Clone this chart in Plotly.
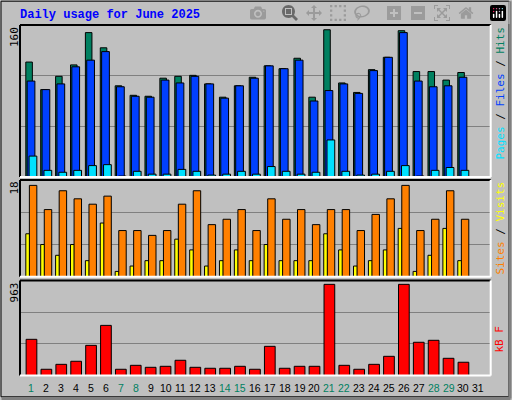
import plotly.graph_objects as go

days = list(range(1, 32))
hits  = [121,92,106,118,152,136,96,86,85,104,106,107,98,84,96,105,117,114,125,84,155,99,89,113,126,154,111,111,102,110,0]
files = [101,92,98,116,123,132,95,85,84,102,99,106,98,83,96,104,117,114,123,80,91,98,88,112,126,152,101,95,96,105,0]
pages = [22,7,5,7,12,13,1,6,3,3,8,6,2,3,6,3,11,6,3,5,39,6,2,3,6,12,1,7,10,7,0]
sites = [8,6,4,6,3,10,1,2,3,3,7,5,2,3,5,3,6,3,3,3,8,5,2,3,5,9,1,4,9,3,0]
visits= [17,12.5,16,14.5,13.5,15,8.6,8.6,7.7,8.6,13.5,16,9.7,10.7,12.5,8.6,14.5,10.7,12.5,9.7,12.5,12.5,8.6,11.6,14.5,17,8.6,10.7,16,10.7,0]
kbytes= [367,64,114,145,306,508,64,104,84,94,155,84,74,74,94,64,296,74,94,94,923,104,64,114,195,923,337,357,175,135,0]
weekend = {1,7,8,14,15,21,22,28,29}
title = "Daily usage for June 2025"

line = dict(color="black", width=1)
fig = go.Figure()
def bar(y, ax, color, off, w):
    fig.add_trace(go.Bar(x=days, y=y, xaxis="x"+ax, yaxis="y"+ax, marker=dict(color=color, line=line),
                         offset=off, width=w, showlegend=False, hoverinfo="skip"))
bar(hits, "", "#008060", -0.51, 0.44)
bar(files, "", "#0040FF", -0.42, 0.52)
bar(pages, "", "#00E0FF", -0.29, 0.52)
bar(sites, "2", "#FFFF00", -0.51, 0.26)
bar(visits, "2", "#FF8000", -0.27, 0.5)
bar(kbytes, "3", "#FF0000", -0.49, 0.72)

xd = [20/512, 490.7/512]
xr = [0.1, 31.7]
doms = {"": [0.5575, 0.9375], "2": [0.308, 0.55], "3": [0.061, 0.299]}
maxs = {"": 160, "2": 18, "3": 963}
lay = dict(width=512, height=400, margin=dict(l=0, r=0, t=0, b=0),
           paper_bgcolor="#C0C0C0", plot_bgcolor="#C0C0C0", barmode="overlay")
for k in ["", "2", "3"]:
    m = maxs[k]
    lay["xaxis"+k] = dict(domain=xd, range=xr, anchor="y"+k, showticklabels=False, showgrid=False,
                          zeroline=False, ticks="")
    lay["yaxis"+k] = dict(domain=doms[k], range=[0, m], anchor="x"+k, tickvals=[m/3, 2*m/3],
                          showticklabels=False, gridcolor="#808080", gridwidth=1, zeroline=False, ticks="")
fig.update_layout(**lay)

mono = "DejaVu Sans Mono"
shapes = []
for k in ["", "2", "3"]:
    y0, y1 = doms[k]
    shapes.append(dict(type="line", xref="paper", yref="paper", x0=xd[0], x1=xd[1], y0=y1, y1=y1, line=dict(color="black", width=2)))
    shapes.append(dict(type="line", xref="paper", yref="paper", x0=xd[0], x1=xd[0], y0=y0, y1=y1, line=dict(color="black", width=2)))
    shapes.append(dict(type="line", xref="paper", yref="paper", x0=xd[0], x1=xd[1], y0=y0, y1=y0, line=dict(color="white", width=2)))
    shapes.append(dict(type="line", xref="paper", yref="paper", x0=xd[1], x1=xd[1], y0=y0, y1=y1, line=dict(color="white", width=2)))
shapes.append(dict(type="rect", xref="paper", yref="paper", x0=0.002, x1=0.994, y0=0.008, y1=0.997,
                   line=dict(color="black", width=1)))
shapes.append(dict(type="line", xref="paper", yref="paper", x0=0.003, x1=0.997, y0=0.004, y1=0.004, line=dict(color="#808080", width=3)))
shapes.append(dict(type="line", xref="paper", yref="paper", x0=0.996, x1=0.996, y0=0.004, y1=0.997, line=dict(color="#808080", width=3)))
fig.update_layout(shapes=shapes)

ann = [dict(text="<b>"+title+"</b>", xref="paper", yref="paper", x=18/512, y=1-15/400, xanchor="left", yanchor="middle",
            showarrow=False, font=dict(family="Liberation Mono", size=12, color="#0000FF"))]
for k in ["", "2", "3"]:
    ann.append(dict(text=str(maxs[k]), xref="paper", yref="paper", x=14/512, y=doms[k][1], xanchor="center", yanchor="top",
                    textangle=-90, showarrow=False, font=dict(family=mono, size=11, color="black")))
rl = {"": ('<span style="color:#00E0FF">Pages</span> / <span style="color:#0040FF">Files</span> / <span style="color:#008060">Hits</span>', "top"),
      "2": ('<span style="color:#FF8000">Sites</span> / <span style="color:#FFFF00">Visits</span>', "top"),
      "3": ('<span style="color:#FF0000">kB F</span>', "bottom")}
for k, (t, pos) in rl.items():
    y0, y1 = doms[k]
    ann.append(dict(text=t, xref="paper", yref="paper", x=500/512, y=y1 if pos == "top" else y0 + 0.09,
                    xanchor="center", yanchor="top" if pos == "top" else "middle", textangle=-90,
                    showarrow=False, font=dict(family=mono, size=11, color="black")))
for d in days:
    ann.append(dict(text=str(d), xref="x3", yref="paper", x=d-0.13, y=1-388/400, xanchor="center", yanchor="middle",
                    showarrow=False, font=dict(family="Liberation Sans", size=10.5, color="#008060" if d in weekend else "black")))
fig.update_layout(annotations=ann)
fig.write_html("out.html", post_script="document.body.style.margin='0';document.body.style.overflow='hidden';")
